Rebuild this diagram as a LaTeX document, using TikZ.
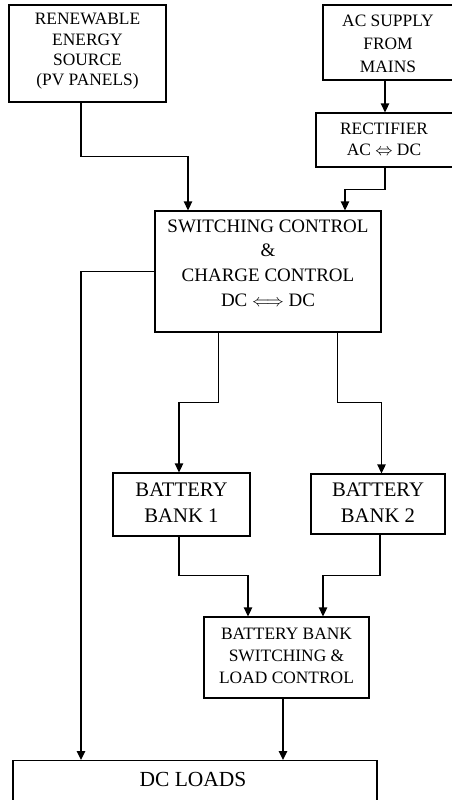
\documentclass[tikz,border=0pt]{standalone}
\usepackage{fontspec}
\setmainfont{Liberation Serif}
\usetikzlibrary{arrows.meta}
\begin{document}
\begin{tikzpicture}[x=1pt,y=-1pt,
  box/.style={draw,line width=1.3pt,rectangle,inner sep=0pt},
  txt/.style={align=center,inner sep=0pt},
  arr/.style={line width=1.3pt,-{Triangle[length=9pt,width=8.5pt]}},
  ln/.style={line width=1.3pt}]
\useasboundingbox (0,0) rectangle (451,800);
% boxes
\node[box,minimum width=157pt,minimum height=97pt] (ren) at (87.5,53.5) {};
\node[box,minimum width=132pt,minimum height=75pt] (ac) at (389,42.5) {};
\node[box,minimum width=138pt,minimum height=54pt] (rect) at (385,140) {};
\node[box,minimum width=226pt,minimum height=121pt] (sw) at (268,271.5) {};
\node[box,minimum width=137pt,minimum height=63pt] (b1) at (181.5,504.5) {};
\node[box,minimum width=134pt,minimum height=60pt] (b2) at (378,504) {};
\node[box,minimum width=165pt,minimum height=81pt] (bbs) at (286.5,657.5) {};
\node[box,minimum width=364pt,minimum height=80pt,anchor=north] (dc) at (195,760) {};
% texts
\node[txt,font=\fontsize{17.4}{20.3}\selectfont] (tren) at (87.5,51.5) {RENEWABLE\\ENERGY\\SOURCE\\(PV PANELS)};
\node[txt,font=\fontsize{17.4}{23}\selectfont] (tac) at (388,43.5) {AC SUPPLY\\FROM\\MAINS};
\node[txt,font=\fontsize{17.4}{20.7}\selectfont] (trect) at (384,139.5) {RECTIFIER\\AC $\Leftrightarrow$ DC};
\node[txt,font=\fontsize{19}{24.7}\selectfont] (tsw) at (268,263) {SWITCHING CONTROL\\\&\\CHARGE CONTROL\\DC $\Longleftrightarrow$ DC};
\node[txt,font=\fontsize{20.7}{26}\selectfont] (tb1) at (181.5,503) {BATTERY\\BANK 1};
\node[txt,font=\fontsize{20.7}{26}\selectfont] (tb2) at (378,503) {BATTERY\\BANK 2};
\node[txt,font=\fontsize{17.4}{22}\selectfont] (tbbs) at (286.5,656) {BATTERY BANK\\SWITCHING \&\\LOAD CONTROL};
\node[txt,font=\fontsize{21.5}{26}\selectfont,anchor=center] (tdc) at (193,779) {DC LOADS};
% connectors
\draw[arr] ([xshift=-6.5pt]ren.south) -- ++(0,54) -| ([xshift=-80pt]sw.north);
\draw[arr] (ac.south -| rect.north) -- (rect.north);
\draw[arr] (rect.south) -- ++(0,22) -| ([xshift=77pt]sw.north);
\draw[arr] (sw.west) -| ([xshift=-114pt]dc.north);
\draw[arr] ([xshift=-49.5pt]sw.south) -- ++(0,69.5) -| ([xshift=-2.5pt]b1.north);
\draw[arr] ([xshift=69.5pt]sw.south) -- ++(0,69.5) -| ([xshift=3.5pt]b2.north);
\draw[arr] ([xshift=-2.5pt]b1.south) -- ++(0,39) -| ([xshift=-38.5pt]bbs.north);
\draw[arr] ([xshift=2pt]b2.south) -- ++(0,41) -| ([xshift=36.5pt]bbs.north);
\draw[arr] ([xshift=-3.5pt]bbs.south) -- ([xshift=88pt]dc.north);
\end{tikzpicture}
\end{document}
